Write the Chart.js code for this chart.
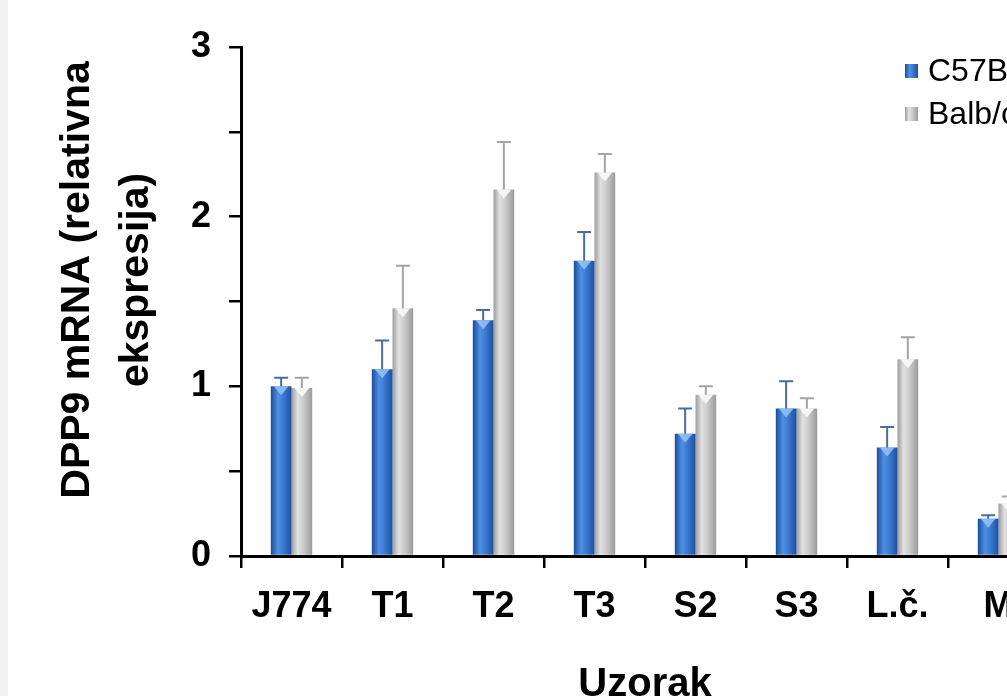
<!DOCTYPE html>
<html>
<head>
<meta charset="utf-8">
<script src="https://cdn.jsdelivr.net/npm/chart.js@4"></script>
<style>
  html,body{margin:0;padding:0;overflow:hidden;background:#f0f0f0;width:1007px;height:696px;}
  #wrap{position:absolute;left:8px;top:0;width:1150px;height:760px;background:#fff;}
</style>
</head>
<body>
<div id="wrap"><canvas id="c" width="1150" height="760"></canvas></div>
<script>
const categories = ['J774','T1','T2','T3','S2','S3','L.č.','M'];
const seriesNames = ['C57BL/6','Balb/c'];
const c57Values  = [1.00, 1.10, 1.39, 1.74, 0.72, 0.87, 0.64, 0.22];
const c57Errors  = [0.05, 0.17, 0.06, 0.17, 0.15, 0.16, 0.12, 0.02];
const balbValues = [0.99, 1.46, 2.16, 2.26, 0.95, 0.87, 1.16, 0.31];
const balbErrors = [0.06, 0.25, 0.28, 0.11, 0.05, 0.06, 0.13, 0.04];
const yMajorTicks = [0, 1, 2, 3];
const yTitleLines = ['DPP9 mRNA (relativna', 'ekspresija)'];
const xTitle = 'Uzorak';

const FONT = "'Liberation Sans', Arial, sans-serif";
const styles = [
  {stops:[[0,'#1c4c98'],[0.35,'#4e90e4'],[0.65,'#3876ce'],[1,'#1d4f9e']], solid:'#2f68c0', err:'#4a6e98', wedge:'rgba(150,195,245,0.85)'},
  {stops:[[0,'#9c9c9c'],[0.3,'#e2e2e2'],[0.6,'#c8c8c8'],[1,'#9a9a9a']], solid:'#c0c0c0', err:'#a4a4a4', wedge:'rgba(250,250,250,0.9)'}
];
const errors = [c57Errors, balbErrors];

function grad(ctx, x0, x1, st){
  const g = ctx.createLinearGradient(x0, 0, x1, 0);
  st.stops.forEach(s => g.addColorStop(s[0], s[1]));
  return g;
}
function barFill(di){
  return function(c){
    const el = c.element;
    if (!el || !isFinite(el.x) || !isFinite(el.width)) return styles[di].solid;
    return grad(c.chart.ctx, el.x - el.width/2, el.x + el.width/2, styles[di]);
  };
}

const decor = {
  id:'decor',
  afterDatasetsDraw(chart){
    const ctx = chart.ctx, y = chart.scales.y;
    chart.data.datasets.forEach((ds, di) => {
      const st = styles[di];
      chart.getDatasetMeta(di).data.forEach((el, i) => {
        const w = el.width;
        ctx.save();
        ctx.fillStyle = st.wedge;
        ctx.beginPath();
        ctx.moveTo(el.x - w/2 + 3, el.y);
        ctx.lineTo(el.x + w/2 - 3, el.y);
        ctx.lineTo(el.x, el.y + 9);
        ctx.closePath();
        ctx.fill();
        ctx.restore();
        const top = y.getPixelForValue(ds.data[i] + errors[di][i]);
        ctx.save();
        ctx.strokeStyle = st.err;
        ctx.lineWidth = 2;
        ctx.beginPath();
        ctx.moveTo(el.x, el.y);
        ctx.lineTo(el.x, top);
        ctx.moveTo(el.x - 7, top);
        ctx.lineTo(el.x + 7, top);
        ctx.stroke();
        ctx.restore();
      });
    });
  },
  afterDraw(chart){
    const ctx = chart.ctx, a = chart.chartArea;
    ctx.save();
    ctx.fillStyle = '#000';
    ctx.font = 'bold 41px ' + FONT;
    ctx.textAlign = 'center';
    ctx.textBaseline = 'alphabetic';
    const bases = [81, 140];
    yTitleLines.forEach((t, k) => {
      ctx.save();
      ctx.translate(bases[k], 280);
      ctx.rotate(-Math.PI/2);
      ctx.fillText(t, 0, 0);
      ctx.restore();
    });
    ctx.font = 'bold 40px ' + FONT;
    ctx.fillText(xTitle, (a.left + a.right)/2, 696);
    ctx.font = '32px ' + FONT;
    ctx.textAlign = 'left';
    ctx.textBaseline = 'middle';
    const ly = [71, 114];
    chart.data.datasets.forEach((ds, di) => {
      const bx = 897, by = ly[di] - 7;
      ctx.fillStyle = grad(ctx, bx, bx + 13, styles[di]);
      ctx.fillRect(bx, by, 13, 14);
      ctx.fillStyle = '#000';
      ctx.fillText(ds.label, 920, ly[di] + 1);
    });
    ctx.restore();
  }
};

const chart = new Chart(document.getElementById('c'), {
  type:'bar',
  data:{
    labels: categories,
    datasets:[
      {label: seriesNames[0], data: c57Values, backgroundColor: barFill(0), borderWidth:0},
      {label: seriesNames[1], data: balbValues, backgroundColor: barFill(1), borderWidth:0}
    ]
  },
  options:{
    responsive:false,
    animation:false,
    devicePixelRatio:1,
    layout:{padding:{top:47, right:109, bottom:0, left:0}},
    datasets:{bar:{categoryPercentage:0.41, barPercentage:1}},
    plugins:{legend:{display:false}, tooltip:{enabled:false}},
    scales:{
      x:{
        grid:{display:true, drawOnChartArea:false, drawTicks:true, tickLength:12, color:'#000', lineWidth:2.5, offset:true},
        border:{display:true, color:'#000', width:3},
        ticks:{color:'#000', font:{family:FONT, size:36, weight:'bold'}, padding:17, maxRotation:0, autoSkip:false},
        afterFit(s){ s.height = 204; }
      },
      y:{
        min:0, max:3,
        grid:{display:true, drawOnChartArea:false, drawTicks:true, tickLength:12, color:'#000', lineWidth:2.5},
        border:{display:true, color:'#000', width:3},
        ticks:{stepSize:0.5, color:'#000', font:{family:FONT, size:36, weight:'bold'}, padding:18,
               callback:v => yMajorTicks.includes(v) ? String(v) : ''},
        afterFit(s){ s.width = 233; }
      }
    }
  },
  plugins:[decor]
});
chart.update('none');
</script>
</body>
</html>
